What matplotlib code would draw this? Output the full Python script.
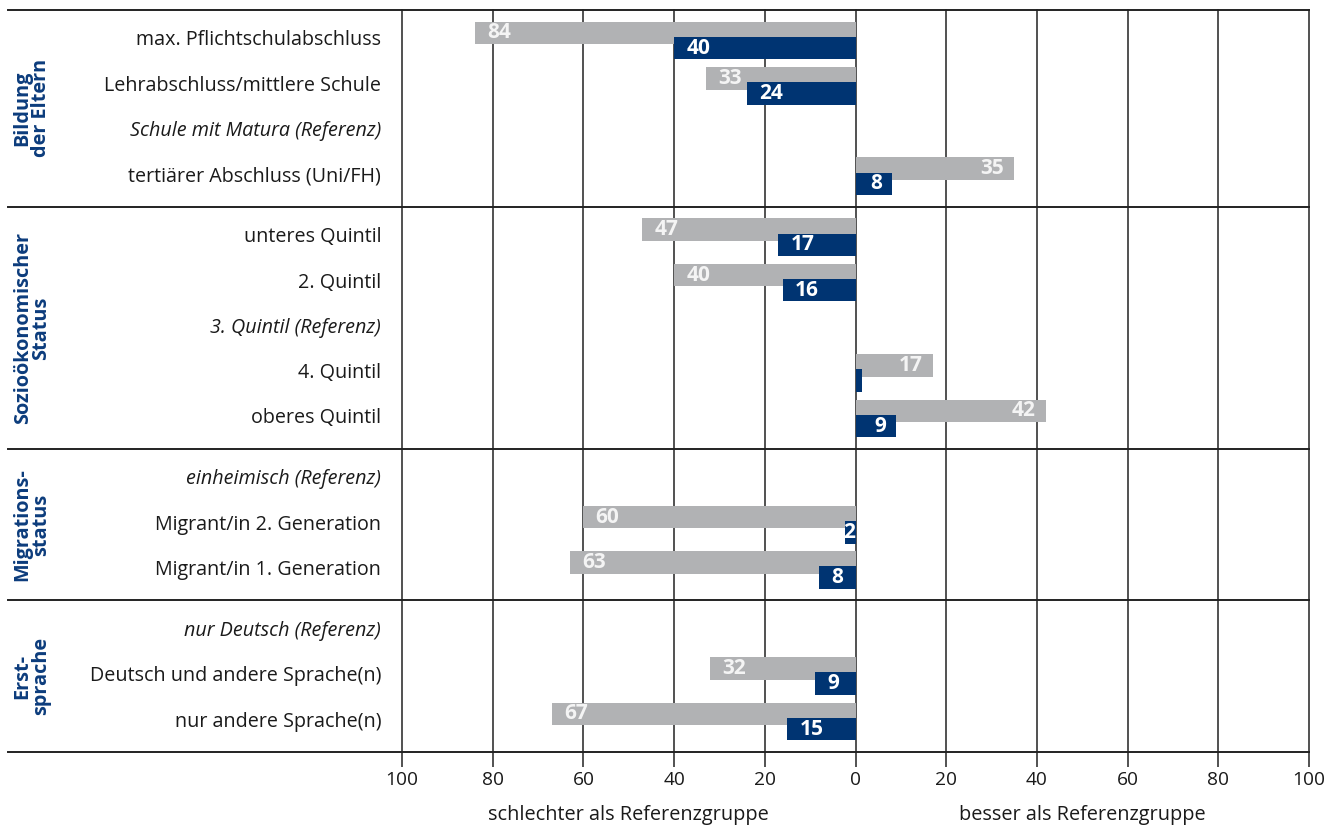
import matplotlib
matplotlib.use("Agg")
import matplotlib.pyplot as plt
from matplotlib.lines import Line2D
from matplotlib.transforms import blended_transform_factory

# ---------------- data ----------------
groups = ["Bildung\nder Eltern", "Sozioökonomischer\nStatus", "Migrations-\nstatus", "Erst-\nsprache"]
categories = [
    ["max. Pflichtschulabschluss", "Lehrabschluss/mittlere Schule", "Schule mit Matura (Referenz)", "tertiärer Abschluss (Uni/FH)"],
    ["unteres Quintil", "2. Quintil", "3. Quintil (Referenz)", "4. Quintil", "oberes Quintil"],
    ["einheimisch (Referenz)", "Migrant/in 2. Generation", "Migrant/in 1. Generation"],
    ["nur Deutsch (Referenz)", "Deutsch und andere Sprache(n)", "nur andere Sprache(n)"],
]
grey_values = [
    [-84, -33, None, 35],
    [-47, -40, None, 17, 42],
    [None, -60, -63],
    [None, -32, -67],
]
navy_values = [
    [-40, -24, None, 8],
    [-17, -16, None, 1.5, 9],
    [None, -2.4, -8],
    [None, -9, -15],
]
tick_values = [-100, -80, -60, -40, -20, 0, 20, 40, 60, 80, 100]
tick_labels = ["100", "80", "60", "40", "20", "0", "20", "40", "60", "80", "100"]
side_labels = ["schlechter als Referenzgruppe", "besser als Referenzgruppe"]

# ---------------- style ----------------
GREY = "#b1b2b4"
NAVY = "#003472"
GROUP_COL = "#0c3c7c"
TEXT = "#1a1a1a"
LINE = "#222222"
plt.rcParams["font.family"] = ["Open Sans", "DejaVu Sans"]

W, H = 1326, 827
fig = plt.figure(figsize=(W / 100, H / 100), dpi=100)
x0, x1 = 402, 1309
y_top, y_bot = 10, 752
ax = fig.add_axes([x0 / W, 1 - y_bot / H, (x1 - x0) / W, (y_bot - y_top) / H])

# ---------------- layout in row units ----------------
pad = 0.673
pos = []
seps = [0.0]
y = 0.0
for cats in categories:
    y += pad
    p = []
    for i in range(len(cats)):
        p.append(y)
        if i < len(cats) - 1:
            y += 1.0
    y += pad
    seps.append(y)
    pos.append(p)
total = y

bh = 0.5
off = 0.167
NUM_FS = 15

for gi, cats in enumerate(categories):
    for ci, cat in enumerate(cats):
        yc = pos[gi][ci]
        gv = grey_values[gi][ci]
        nv = navy_values[gi][ci]
        italic = "Referenz" in cat
        ax.text(-100 - 4.6, yc, cat, ha="right", va="center", fontsize=14.2,
                color=TEXT, style="italic" if italic else "normal", clip_on=False)
        for v, yy, col, tcol in ((gv, yc - off, GREY, "#f4f4f4"), (nv, yc + off, NAVY, "white")):
            if v is None:
                continue
            ax.barh(yy, v, height=bh, color=col, zorder=3 if col == NAVY else 2, linewidth=0)
            if abs(v) < 2:
                continue
            lab = f"{abs(v):.0f}"
            if v < 0:
                if abs(v) < 5:
                    ax.text(-0.1, yy, lab, ha="right", va="center", color=tcol,
                            fontsize=NUM_FS, fontweight="bold", zorder=4)
                else:
                    ax.text(v + 2.7, yy, lab, ha="left", va="center", color=tcol,
                            fontsize=NUM_FS, fontweight="bold", zorder=4)
            else:
                ax.text(v - 2.2, yy, lab, ha="right", va="center", color=tcol,
                        fontsize=NUM_FS, fontweight="bold", zorder=4)

# group labels
for gi, g in enumerate(groups):
    yc = (seps[gi] + seps[gi + 1]) / 2
    ax.text(32 / W, yc, g, transform=blended_transform_factory(fig.transFigure, ax.transData),
            rotation=90, ha="center", va="center", multialignment="center",
            fontsize=14.3, fontweight="bold", color=GROUP_COL, linespacing=0.92)

ax.set_xlim(-100, 100)
ax.set_ylim(total, 0)

# vertical grid lines
for t in tick_values:
    ax.axvline(t, color=LINE, lw=1.1, zorder=1, clip_on=False)

# horizontal separators across whole width
tr = blended_transform_factory(fig.transFigure, ax.transData)
for s in seps:
    fig.add_artist(Line2D([8 / W, x1 / W], [s, s], transform=tr, color=LINE, lw=1.4))

for sp in ax.spines.values():
    sp.set_visible(False)
ax.set_yticks([])
ax.set_xticks(tick_values)
ax.set_xticklabels(tick_labels, fontsize=13.8, color=TEXT)
ax.tick_params(axis="x", direction="out", length=11, width=1.1, color=LINE, pad=3)

tr2 = blended_transform_factory(ax.transData, fig.transFigure)
ax.text(-50, 1 - 815 / H, side_labels[0], transform=tr2, ha="center", va="center", fontsize=14.3, color=TEXT)
ax.text(50, 1 - 815 / H, side_labels[1], transform=tr2, ha="center", va="center", fontsize=14.3, color=TEXT)

fig.savefig("out.png", dpi=100)
